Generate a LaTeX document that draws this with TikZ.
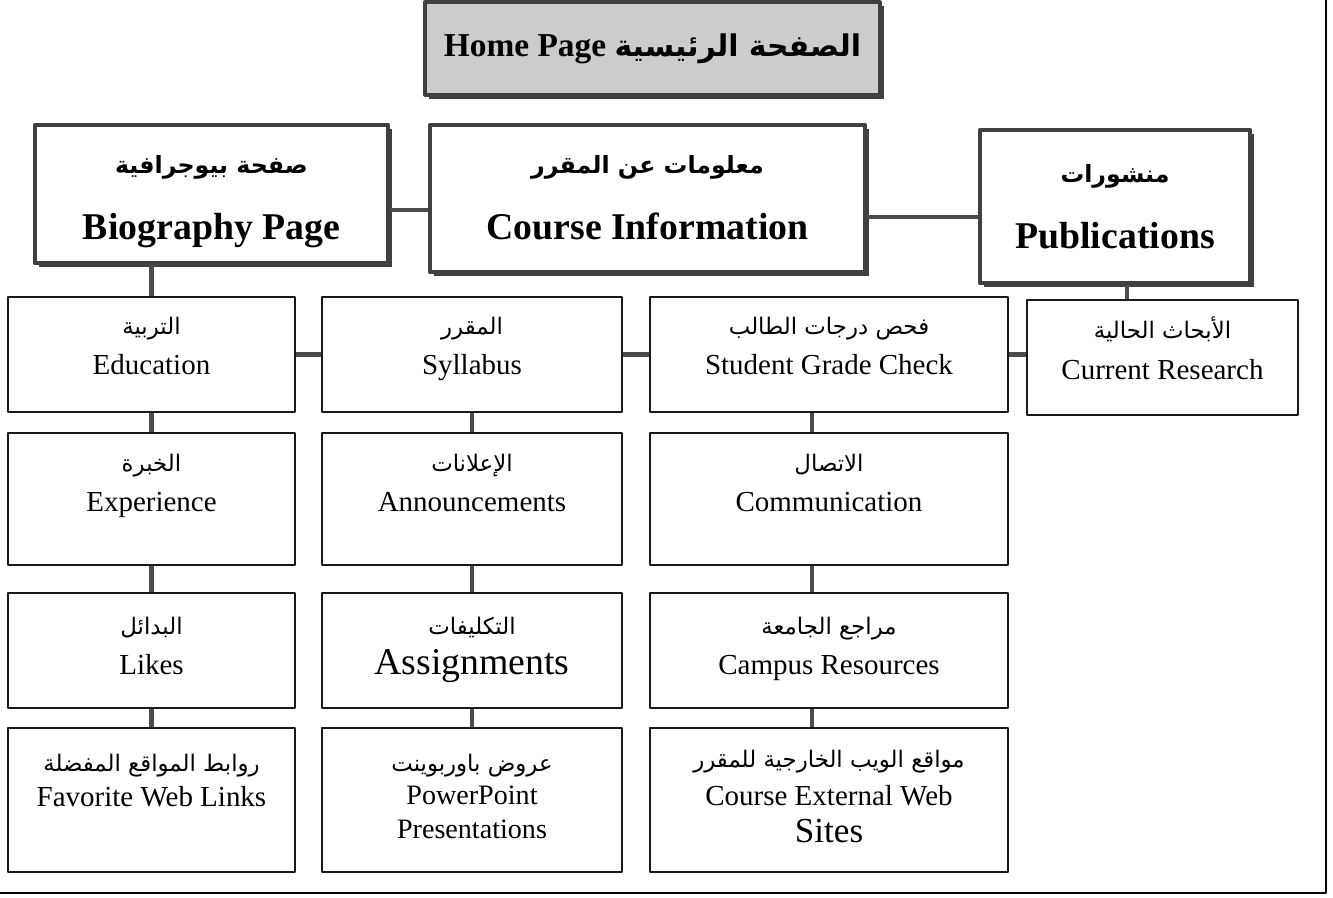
\documentclass[tikz,border=0pt]{standalone}
\usepackage{fontspec}
\setmainfont{Liberation Serif}
\newfontfamily\arabicfont[Script=Arabic]{DejaVu Sans}
\TeXXeTstate=1
\usetikzlibrary{positioning,shadows}
\newcommand\artxt[2][13]{{\arabicfont\fontsize{#1}{#1}\selectfont\beginR #2\endR}}
\tikzset{
  cell/.style={draw=black!90, line width=1.6pt, fill=white, inner sep=0pt},
  head/.style={draw=black!75, line width=2.6pt, fill=white, inner sep=0pt,
    drop shadow={shadow xshift=2.5pt, shadow yshift=-2.5pt, fill=black!75, opacity=1}},
  link/.style={draw=black!70, line width=2.4pt, line cap=butt},
  txt/.style={align=center, inner sep=0pt, font=\fontsize{16.5}{23}\selectfont},
  headtxt/.style={align=center, inner sep=0pt, font=\bfseries\fontsize{21.5}{38}\selectfont},
}
\begin{document}
\begin{tikzpicture}[x=0.02cm, y=-0.02cm, line join=round, line cap=round]
	\def\ca{151.5} \def\cb{472} \def\cc{829} \def\cd{1162.5} % columns
	\def\ra{354.5} \def\rb{499} \def\rc{650.5} \def\rd{800} % rows
	\useasboundingbox (0,0) rectangle (1333,897);
	\draw[line width=1.1pt] (0,893) -- (1326,893) -- (1326,0);
	% home page
	\node[head, fill=black!20, line width=1.8pt, minimum width=9.1cm, minimum height=1.86cm] (home) at (652.5,48.5)
		{\bfseries\fontsize{19}{19}\selectfont Home Page \artxt[17]{الصفحة الرئيسية}};
	% main pages
	\node[head, minimum width=7.06cm, minimum height=2.76cm] (bio) at (211.5,194) {};
	\node[head, minimum width=8.7cm, minimum height=2.94cm] (ci) at (647.5,198.5) {};
	\node[head, minimum width=5.4cm, minimum height=3.06cm] (pub) at (1115,206.5) {};
	\node[headtxt, below=0.64cm of bio.north] (bio-t) {\artxt[13.5]{صفحة بيوجرافية}\\Biography Page};
	\node[headtxt, below=0.64cm of ci.north] (ci-t) {\artxt[13.5]{معلومات عن المقرر}\\Course Information};
	\node[headtxt, below=0.72cm of pub.north] (pub-t) {\artxt[13.5]{منشورات}\\Publications};
	% sub pages
	\node[cell, minimum width=5.74cm, minimum height=2.3cm] (edu) at (\ca,\ra) {};
	\node[cell, minimum width=6cm, minimum height=2.3cm] (syl) at (\cb,\ra) {};
	\node[cell, minimum width=7.16cm, minimum height=2.3cm] (sgc) at (\cc,\ra) {};
	\node[cell, minimum width=5.42cm, minimum height=2.3cm] (cr) at (\cd,357.5) {};
	\node[cell, minimum width=5.74cm, minimum height=2.64cm] (exp) at (\ca,\rb) {};
	\node[cell, minimum width=6cm, minimum height=2.64cm] (ann) at (\cb,\rb) {};
	\node[cell, minimum width=7.16cm, minimum height=2.64cm] (com) at (\cc,\rb) {};
	\node[cell, minimum width=5.74cm, minimum height=2.3cm] (lik) at (\ca,\rc) {};
	\node[cell, minimum width=6cm, minimum height=2.3cm] (asg) at (\cb,\rc) {};
	\node[cell, minimum width=7.16cm, minimum height=2.3cm] (cam) at (\cc,\rc) {};
	\node[cell, minimum width=5.74cm, minimum height=2.88cm] (fav) at (\ca,\rd) {};
	\node[cell, minimum width=6cm, minimum height=2.88cm] (ppt) at (\cb,\rd) {};
	\node[cell, minimum width=7.16cm, minimum height=2.88cm] (cws) at (\cc,\rd) {};
	\node[txt, below=0.42cm of edu.north] (edu-t) {\artxt{التربية}\\Education};
	\node[txt, below=0.42cm of syl.north] (syl-t) {\artxt{المقرر}\\Syllabus};
	\node[txt, below=0.42cm of sgc.north] (sgc-t) {\artxt{فحص درجات الطالب}\\Student Grade Check};
	\node[txt, below=0.36cm of cr.north] (cr-t) {\artxt{الأبحاث الحالية}\\Current Research};
	\node[txt, below=0.44cm of exp.north] (exp-t) {\artxt{الخبرة}\\Experience};
	\node[txt, below=0.44cm of ann.north] (ann-t) {\artxt{الإعلانات}\\Announcements};
	\node[txt, below=0.44cm of com.north] (com-t) {\artxt{الاتصال}\\Communication};
	\node[txt, below=0.5cm of lik.north] (lik-t) {\artxt{البدائل}\\Likes};
	\node[txt, below=0.5cm of asg.north] (asg-t) {\artxt{التكليفات}\\{\fontsize{21.5}{23}\selectfont Assignments}};
	\node[txt, below=0.5cm of cam.north] (cam-t) {\artxt{مراجع الجامعة}\\Campus Resources};
	\node[txt, below=0.54cm of fav.north, font=\fontsize{16.5}{20}\selectfont] (fav-t) {\artxt{روابط المواقع المفضلة}\\Favorite Web Links};
	\node[txt, below=0.54cm of ppt.north, font=\fontsize{16}{19}\selectfont] (ppt-t) {\artxt{عروض باوربوينت}\\PowerPoint\\Presentations};
	\node[txt, below=0.46cm of cws.north, font=\fontsize{16.5}{21.5}\selectfont] (cws-t) {\artxt{مواقع الويب الخارجية للمقرر}\\Course External Web\\{\fontsize{20}{21.5}\selectfont Sites}};
	% links
	\draw[link] ([yshift=-0.32cm]bio.east) -- ([yshift=-0.32cm]bio.east -| ci.west);
	\draw[link] ([yshift=-0.37cm]ci.east) -- ([yshift=-0.37cm]ci.east -| pub.west);
	\draw[link] (bio.south -| edu.north) -- (edu.north);
	\draw[link] ([xshift=0.24cm]pub.south) -- ([xshift=0.24cm]pub.south |- cr.north);
	\foreach \a/\b in {edu/syl,syl/sgc,sgc/cr} \draw[link] (\a.east) -- (\a.east -| \b.west);
	\foreach \a/\b in {edu/exp,exp/lik,lik/fav,syl/ann,ann/asg,asg/ppt} \draw[link] (\a.south) -- (\b.north);
	\foreach \a/\b in {sgc/com,com/cam,cam/cws} \draw[link] ([xshift=-0.34cm]\a.south) -- ([xshift=-0.34cm]\b.north);
\end{tikzpicture}
\end{document}
